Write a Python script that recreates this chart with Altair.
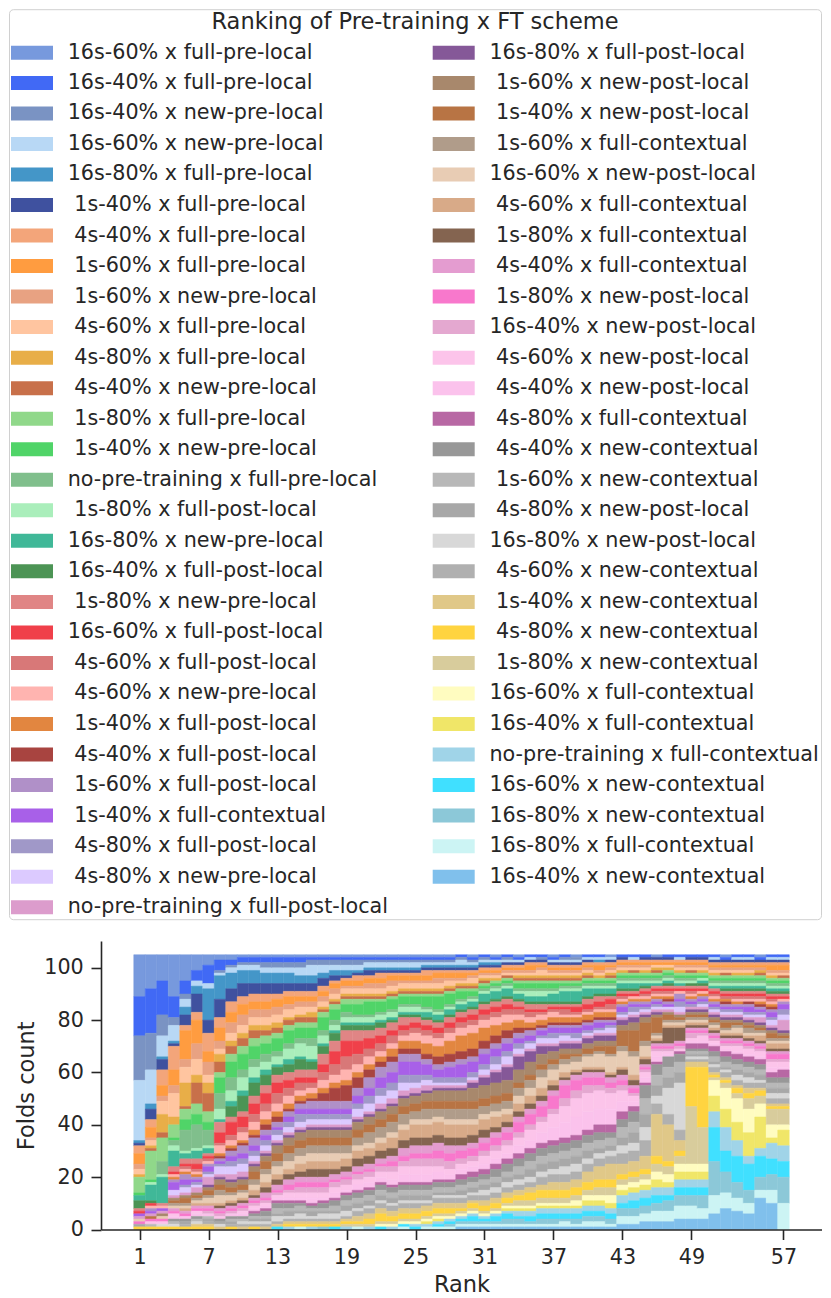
import altair as alt
import pandas as pd

# leading blank kept as in the original labels (zero-width char stops the blank being trimmed)
NB = "\u200b\u00a0"
schemes = [
    "16s-60% x full-pre-local", "16s-40% x full-pre-local", "16s-40% x new-pre-local",
    "16s-60% x new-pre-local", "16s-80% x full-pre-local",
    NB + "1s-40% x full-pre-local", NB + "4s-40% x full-pre-local", NB + "1s-60% x full-pre-local",
    NB + "1s-60% x new-pre-local", NB + "4s-60% x full-pre-local",
    NB + "4s-80% x full-pre-local", NB + "4s-40% x new-pre-local", NB + "1s-80% x full-pre-local",
    NB + "1s-40% x new-pre-local", "no-pre-training x full-pre-local",
    NB + "1s-80% x full-post-local", "16s-80% x new-pre-local", "16s-40% x full-post-local",
    NB + "1s-80% x new-pre-local", "16s-60% x full-post-local",
    NB + "4s-60% x full-post-local", NB + "4s-60% x new-pre-local", NB + "1s-40% x full-post-local",
    NB + "4s-40% x full-post-local", NB + "1s-60% x full-post-local",
    NB + "1s-40% x full-contextual", NB + "4s-80% x full-post-local", NB + "4s-80% x new-pre-local",
    "no-pre-training x full-post-local",
    "16s-80% x full-post-local", NB + "1s-60% x new-post-local", NB + "1s-40% x new-post-local",
    NB + "1s-60% x full-contextual", "16s-60% x new-post-local",
    NB + "4s-60% x full-contextual", NB + "1s-80% x full-contextual", NB + "4s-40% x full-contextual",
    NB + "1s-80% x new-post-local", "16s-40% x new-post-local",
    NB + "4s-60% x new-post-local", NB + "4s-40% x new-post-local", NB + "4s-80% x full-contextual",
    NB + "4s-40% x new-contextual", NB + "1s-60% x new-contextual",
    NB + "4s-80% x new-post-local", "16s-80% x new-post-local", NB + "4s-60% x new-contextual",
    NB + "1s-40% x new-contextual", NB + "4s-80% x new-contextual",
    NB + "1s-80% x new-contextual", "16s-60% x full-contextual", "16s-40% x full-contextual",
    "no-pre-training x full-contextual", "16s-60% x new-contextual",
    "16s-80% x new-contextual", "16s-80% x full-contextual", "16s-40% x new-contextual",
]

colors = [
    "#7799dd", "#4169f5", "#7a93c3", "#b8d8f5", "#4496c8", "#3f519f",
    "#f3a57a", "#ff9c40", "#e8a282", "#ffc5a0", "#e8ae48", "#c8704a",
    "#90d88a", "#50d468", "#80bf8c", "#aaeebb", "#40b898", "#4c9455",
    "#e08585", "#f0404a", "#d87878", "#ffb4b0", "#e28640", "#a84440",
    "#b090c8", "#a860e8", "#a098c8", "#dccaff", "#dc9ccc", "#855898",
    "#a8886c", "#b87444", "#b09c8a", "#e8ccb4", "#d8aa88", "#846450",
    "#e49cd0", "#f878cc", "#e4a8d0", "#fcc4ea", "#fbc2ec", "#b868a4",
    "#989898", "#b8b8b8", "#a8a8a8", "#d8d8d8", "#b0b0b0",
    "#e0c888", "#ffd440", "#d8cc9c", "#fffcc0", "#f0e668",
    "#a0d4e8", "#40e0ff", "#8cc8d8", "#ccf4f4", "#80c0ec",
]

# folds count of every scheme (legend order) at each rank
r01 = [16,15,17,23,1,1, 3,4,2,2,1,0, 6,1,0,0,2,3, 1,1,0,0,0,0, 0,1,0,0,1,0, 0,0,0,1,0,0, 0,1,0,0,0,0, 0,0,1,0,0, 0,1,0,0,0, 0,0,0,0,0]
r02 = [13,17,14,13,2,4, 3,4,1,2,1,1, 11,1,0,1,6,1, 0,1,0,1,0,0, 1,1,0,0,1,0, 0,1,0,0,0,0, 0,1,0,1,0,0, 0,1,0,0,0, 0,1,0,0,0, 0,0,0,0,0]
r03 = [10,13,8,8,1,4, 6,4,2,5,7,2, 9,0,5,1,10,0, 1,0,0,1,0,0, 0,1,0,0,1,0, 1,0,0,1,0,0, 0,1,0,0,1,0, 0,0,0,1,0, 0,1,0,0,0, 0,0,0,0,0]
r04 = [16,8,3,6,1,1, 9,6,3,9,3,0, 5,1,2,2,6,0, 2,1,0,1,1,0, 1,3,0,2,1,0, 1,1,1,1,0,0, 1,1,0,1,1,0, 1,1,0,1,0, 0,1,0,0,0, 0,0,0,0,0]
r05 = [10,5,2,3,3,4, 2,11,3,6,9,1, 4,4,8,1,2,0, 2,1,1,1,1,0, 2,2,1,2,1,0, 1,2,1,1,1,0, 1,1,0,0,1,0, 1,0,1,0,1, 0,1,0,0,0, 0,0,0,0,0]
r06 = [6,4,0,2,3,7, 3,9,6,6,3,8, 4,4,9,1,3,0, 2,2,1,1,1,0, 1,1,1,1,2,0, 1,1,1,1,1,0, 1,1,0,1,1,0, 1,1,0,1,0, 1,1,0,0,0, 0,0,0,0,0]
r07 = [4,7,0,2,12,5, 7,4,5,3,4,7, 4,3,6,1,2,0, 1,1,1,1,0,0, 1,2,1,1,3,1, 1,2,1,2,1,0, 1,1,1,0,1,0, 0,1,1,0,1, 1,1,0,0,0, 0,0,0,0,0]
r08 = [2,4,1,1,9,7, 4,5,3,2,3,4, 2,6,6,4,1,0, 4,4,1,3,1,1, 1,1,1,3,1,1, 2,2,2,3,1,1, 1,1,1,1,0,0, 1,0,1,1,0, 1,0,0,0,0, 0,0,0,0,0]
r09 = [2,2,1,2,6,5, 4,4,4,3,2,3, 3,6,5,4,2,4, 2,5,2,2,1,1, 2,2,2,3,2,1, 2,2,1,2,1,1, 1,1,1,0,1,0, 1,1,1,0,1, 0,1,0,0,0, 0,0,0,0,0]
r10 = [1,2,1,2,5,5, 3,4,4,3,2,3, 3,6,3,5,2,6, 2,4,2,3,1,1, 3,2,2,3,2,1, 2,2,1,2,1,1, 1,1,1,1,1,0, 1,1,0,1,1, 1,0,0,0,0, 0,0,0,0,0]
r11 = [1,2,1,2,5,4, 3,3,3,3,2,3, 3,5,3,4,2,5, 3,4,3,3,2,1, 3,2,2,2,1,1, 2,3,2,2,2,1, 1,1,1,1,1,1, 1,1,1,1,1, 0,1,0,0,0, 0,0,0,0,0]
r12 = [1,2,2,2,4,4, 3,3,3,3,2,2, 3,4,3,3,2,4, 3,4,3,3,2,2, 2,2,2,2,1,1, 2,3,2,3,2,2, 2,1,1,1,1,1, 2,1,1,1,1, 1,0,0,0,0, 0,0,0,0,0]
r13 = [1,2,2,2,4,4, 2,3,3,3,2,2, 2,5,2,3,1,3, 3,4,4,3,2,2, 2,1,2,2,1,1, 3,3,2,3,2,2, 2,1,1,1,1,1, 2,2,1,2,1, 1,0,0,0,0, 0,1,0,0,0]
r14 = [1,2,2,2,4,3, 2,3,2,3,1,2, 2,5,2,4,2,3, 3,3,3,3,2,1, 2,2,2,2,1,1, 3,3,3,3,2,2, 2,2,1,2,1,1, 2,1,2,1,1, 1,1,0,0,0, 1,0,0,0,0]
r15 = [1,2,2,3,3,3, 2,2,2,3,1,2, 2,4,2,5,1,4, 3,2,3,2,2,1, 2,2,3,2,1,1, 3,3,3,3,3,2, 2,2,2,2,1,1, 1,2,1,2,1, 1,1,0,0,0, 0,0,0,1,0]
r16 = [1,1,2,4,3,3, 2,2,2,2,2,2, 2,4,3,5,1,3, 3,2,2,2,2,1, 3,2,2,2,1,1, 3,3,3,3,3,3, 2,2,2,2,2,1, 1,1,2,1,1, 1,1,0,0,0, 1,0,0,0,0]
r17 = [1,1,2,3,2,3, 2,2,2,2,1,1, 2,5,2,3,1,3, 4,3,3,3,2,3, 3,2,2,2,1,1, 3,3,3,3,3,3, 2,2,2,2,1,1, 2,1,1,2,1, 1,1,0,0,0, 0,0,1,0,0]
r18 = [1,1,2,2,2,2, 1,2,2,2,1,1, 2,4,2,2,1,3, 4,5,4,3,2,5, 3,2,2,2,1,1, 3,3,3,3,3,2, 2,1,2,2,2,1, 2,2,1,2,1, 1,1,0,0,0, 0,1,0,0,0]
r19 = [1,1,2,2,2,1, 1,2,1,2,1,1, 2,3,2,2,1,2, 4,6,5,4,2,6, 3,2,2,2,1,1, 3,3,3,2,3,2, 2,1,2,2,1,1, 2,2,2,2,1, 1,1,1,0,0, 1,0,0,0,0]
r20 = [1,1,2,2,1,1, 2,2,1,2,1,1, 2,4,1,2,1,2, 4,5,4,3,2,4, 3,3,2,3,1,1, 3,3,3,2,3,3, 2,1,2,2,2,1, 2,2,2,1,2, 2,1,1,0,0, 0,0,0,1,0]
r21 = [1,1,1,2,1,2, 1,2,2,2,1,1, 1,5,1,2,1,2, 3,4,3,3,2,3, 4,3,3,3,1,1, 3,3,4,2,3,3, 2,1,2,2,2,1, 2,2,2,1,2, 2,2,1,0,0, 1,0,0,0,0]
r22 = [1,1,1,2,1,1, 2,2,2,2,1,1, 1,4,1,2,1,2, 3,3,3,2,2,2, 4,4,3,3,2,1, 3,3,4,2,3,3, 2,1,2,2,2,1, 2,2,2,1,2, 2,3,1,1,0, 0,1,0,0,0]
r23 = [1,1,1,2,1,1, 1,2,2,2,1,1, 1,4,1,2,1,1, 3,2,3,2,3,2, 4,4,3,3,2,1, 3,3,4,2,4,3, 2,2,2,3,2,1, 2,2,2,1,2, 2,2,1,1,0, 1,0,0,0,0]
r24 = [1,1,1,2,1,1, 1,2,1,2,1,1, 1,3,1,2,1,1, 3,2,2,2,3,2, 3,5,3,3,2,1, 3,3,4,2,4,3, 3,2,2,3,3,1, 2,2,2,1,2, 2,2,1,1,0, 0,1,0,1,0]
r25 = [1,1,1,2,1,1, 1,2,1,2,1,1, 1,3,1,2,1,1, 2,2,2,3,3,2, 3,5,3,2,2,1, 3,3,3,2,5,3, 3,2,3,3,3,1, 2,2,2,1,2, 2,2,1,1,0, 1,1,0,0,0]
r26 = [1,1,1,1,1,1, 2,2,1,2,1,1, 1,4,1,1,2,1, 2,2,2,3,4,2, 2,4,2,2,2,1, 3,3,4,2,5,3, 3,2,3,3,3,1, 2,2,2,1,1, 2,2,1,1,1, 1,0,0,1,0]
r27 = [1,1,1,1,1,1, 1,2,2,2,1,1, 1,5,1,1,2,1, 2,2,2,3,4,3, 2,3,2,1,1,1, 4,3,3,2,5,3, 3,3,3,2,3,1, 2,2,1,1,2, 2,2,1,1,1, 1,1,0,1,0]
r28 = [1,1,1,1,1,1, 1,2,1,2,1,1, 1,4,1,1,2,1, 2,2,2,3,5,3, 2,4,2,1,1,1, 4,3,4,2,5,3, 3,3,3,2,2,1, 2,2,1,1,2, 2,2,1,1,0, 1,1,1,1,0]
r29 = [0,1,1,2,1,1, 1,2,1,1,1,1, 1,3,1,1,2,1, 2,2,2,3,6,3, 2,5,2,1,1,1, 4,3,4,2,5,3, 2,3,2,2,2,2, 2,2,2,1,2, 2,1,1,1,0, 1,1,1,1,1]
r30 = [1,1,1,1,1,1, 1,1,1,2,1,1, 1,2,1,1,2,1, 2,2,2,3,6,3, 2,4,2,1,1,2, 5,3,4,2,4,3, 2,3,2,2,2,2, 2,2,2,1,2, 1,2,1,1,0, 1,2,1,1,1]
r31 = [0,1,1,1,1,1, 1,1,1,1,1,1, 1,1,1,1,3,1, 2,2,2,3,5,3, 2,4,2,2,1,3, 5,3,3,2,4,3, 2,3,2,3,2,2, 2,2,2,2,2, 2,2,1,1,0, 1,1,1,1,1]
r32 = [1,1,0,1,1,1, 1,1,1,1,1,0, 1,1,1,1,3,1, 2,2,2,3,4,3, 2,3,3,2,1,4, 5,3,3,2,4,2, 2,3,2,3,2,2, 3,2,2,2,2, 2,2,1,1,0, 1,2,1,1,1]
r33 = [0,1,1,1,0,1, 1,1,1,1,0,1, 1,1,1,1,3,1, 2,2,2,3,3,3, 2,3,2,3,1,5, 5,3,3,2,3,2, 2,3,2,3,2,2, 3,2,2,2,2, 2,2,1,1,1, 1,2,2,1,1]
r34 = [1,1,0,1,0,1, 1,1,1,1,1,1, 1,2,1,1,2,1, 2,1,2,2,3,2, 2,2,2,2,1,5, 5,2,3,3,3,2, 2,4,2,3,3,2, 3,3,2,2,2, 2,2,2,1,1, 2,1,2,1,1]
r35 = [0,1,0,1,0,1, 1,2,1,1,1,1, 1,2,1,2,2,1, 2,1,2,2,2,1, 2,2,1,2,1,4, 5,2,3,3,3,2, 2,4,2,4,3,2, 3,3,3,2,2, 2,3,2,1,1, 2,2,1,1,1]
r36 = [0,1,1,0,0,1, 1,1,1,2,1,1, 1,2,1,2,2,1, 2,1,1,2,2,1, 1,2,1,2,1,3, 4,2,3,4,3,2, 2,4,2,4,4,2, 3,3,3,2,3, 2,3,2,1,1, 2,2,2,1,1]
r37 = [1,1,0,1,0,1, 1,1,1,1,1,1, 1,2,1,1,3,1, 1,1,1,2,2,1, 1,2,2,2,1,2, 3,2,2,4,2,2, 2,5,2,5,5,2, 3,3,3,2,3, 3,3,2,1,1, 2,2,2,1,1]
r38 = [0,1,1,1,0,1, 1,1,1,1,1,1, 1,1,1,1,4,1, 1,1,2,1,2,1, 1,2,1,2,1,2, 2,2,2,3,2,1, 2,5,3,6,6,2, 3,3,3,3,3, 3,3,2,1,1, 2,2,1,2,1]
r39 = [1,0,1,1,0,1, 1,1,1,1,1,1, 1,1,1,1,4,1, 1,2,1,1,2,1, 1,2,2,1,1,2, 2,1,2,3,1,1, 2,4,3,7,7,2, 3,3,3,3,3, 3,3,2,2,1, 2,2,2,1,1]
r40 = [0,1,0,1,0,1, 1,1,1,1,1,1, 1,1,1,1,3,1, 2,2,1,1,2,1, 1,2,1,1,1,2, 2,2,1,4,1,1, 2,3,3,7,7,2, 3,3,3,2,3, 4,3,2,2,2, 2,2,2,2,1]
r41 = [0,1,0,1,1,0, 1,2,1,1,1,0, 1,1,1,1,2,1, 2,2,1,1,2,1, 1,2,1,1,1,2, 2,2,1,5,1,1, 2,3,2,7,6,3, 3,3,2,2,3, 5,3,3,2,2, 2,2,2,2,1]
r42 = [1,0,0,1,0,1, 1,1,1,1,1,1, 1,1,1,1,2,1, 1,2,2,1,2,1, 1,1,1,2,1,2, 2,3,1,6,1,1, 2,2,2,6,6,3, 2,3,2,2,3, 6,3,3,3,2, 2,2,2,1,1]
r43 = [0,1,0,0,0,1, 1,1,1,1,1,0, 1,1,1,1,2,1, 1,1,1,1,1,0, 1,2,1,1,1,2, 2,6,2,6,1,2, 2,2,2,4,4,3, 3,4,3,3,4, 4,2,2,2,2, 3,2,3,3,2]
r44 = [0,1,0,1,0,0, 1,1,1,1,0,1, 1,1,1,1,2,1, 1,1,0,1,1,0, 1,1,2,1,1,2, 3,8,2,7,2,2, 1,2,1,2,2,2, 4,4,4,3,4, 4,2,2,2,2, 3,3,3,3,2]
r45 = [0,1,0,0,0,1, 1,1,1,1,1,0, 1,1,1,1,1,1, 1,1,1,1,1,0, 1,1,1,1,1,1, 2,7,2,4,1,2, 1,1,1,2,2,1, 5,6,5,5,6, 5,2,2,2,2, 3,3,3,3,3]
r46 = [1,0,0,0,0,1, 1,1,0,1,1,1, 1,1,1,1,1,0, 1,1,1,1,1,0, 1,1,1,1,1,1, 1,6,1,1,1,1, 1,1,1,2,2,1, 4,4,4,3,4, 16,3,3,3,3, 3,3,3,4,3]
r47 = [0,1,0,0,0,1, 1,1,0,1,1,0, 1,1,1,1,1,1, 1,1,1,1,1,1, 1,1,0,1,1,0, 1,2,1,1,1,6, 1,1,1,1,1,0, 4,4,4,10,4, 14,2,3,3,2, 3,2,4,4,3]
r48 = [0,1,0,1,0,0, 1,1,1,1,1,0, 1,1,1,1,1,0, 1,1,0,1,0,0, 2,1,2,2,1,0, 1,1,1,1,1,5, 1,1,1,1,0,1, 3,4,4,18,4, 4,2,3,3,3, 3,3,4,5,4]
r49 = [0,1,0,0,0,1, 1,1,1,1,0,1, 1,1,1,1,0,1, 1,1,1,1,1,0, 1,1,1,0,1,1, 1,1,1,1,1,1, 1,1,2,1,1,2, 1,1,1,1,1, 2,15,22,3,3, 3,3,4,5,4]
r50 = [0,1,0,0,0,1, 1,1,1,1,1,0, 1,1,0,1,1,1, 1,1,0,1,1,0, 1,1,1,1,1,1, 1,1,1,1,1,1, 1,1,1,2,1,2, 1,1,1,1,1, 2,23,14,3,3, 3,3,5,4,4]
r51 = [0,1,0,1,0,1, 1,1,1,1,1,0, 1,1,1,1,1,0, 1,1,1,1,1,0, 1,1,1,1,1,1, 1,1,1,1,1,1, 1,1,1,1,1,2, 2,2,1,1,2, 1,1,1,6,6, 6,13,13,7,6]
r52 = [1,1,0,0,0,1, 1,1,1,1,0,1, 1,1,1,1,1,1, 1,1,1,0,1,1, 1,1,1,1,1,1, 1,2,1,1,1,1, 1,1,1,1,1,2, 2,2,1,1,2, 1,1,2,8,7, 9,8,8,6,8]
r53 = [0,1,0,1,0,1, 1,1,1,1,1,0, 1,1,1,1,1,1, 1,1,1,1,1,0, 1,1,1,1,1,1, 1,1,1,2,1,1, 1,1,1,2,1,2, 2,2,2,2,2, 1,2,2,9,7, 6,10,6,5,7]
r54 = [0,1,0,1,0,1, 1,1,1,1,1,0, 1,1,1,1,1,1, 1,1,1,1,0,1, 1,2,1,1,1,1, 1,1,2,1,1,1, 1,1,1,2,1,2, 2,2,2,2,2, 2,2,4,9,9, 3,10,5,4,6]
r55 = [1,1,0,0,0,1, 1,1,1,0,1,1, 1,1,1,1,1,1, 1,1,1,1,1,1, 1,1,1,1,2,1, 1,1,1,1,2,1, 1,1,1,2,1,2, 2,2,2,1,2, 1,2,3,5,12, 3,8,5,3,12]
r56 = [0,1,0,1,0,1, 1,2,1,1,1,0, 1,1,1,1,1,1, 1,1,1,1,1,1, 1,2,1,2,1,1, 1,2,1,1,2,1, 1,2,1,2,2,2, 2,2,2,2,2, 1,1,6,5,2, 6,6,6,5,10]
r57 = [0,1,0,1,0,1, 1,2,1,1,0,1, 1,1,1,1,1,1, 1,1,0,1,0,0, 1,2,2,2,4,1, 1,1,1,1,2,1, 1,2,1,2,1,3, 2,2,2,2,2, 1,1,6,2,6, 6,6,10,10,0]

rank_rows = [r01, r02, r03, r04, r05, r06, r07, r08, r09, r10, r11, r12, r13, r14, r15,
             r16, r17, r18, r19, r20, r21, r22, r23, r24, r25, r26, r27, r28, r29, r30,
             r31, r32, r33, r34, r35, r36, r37, r38, r39, r40, r41, r42, r43, r44, r45,
             r46, r47, r48, r49, r50, r51, r52, r53, r54, r55, r56, r57]

x_ticks = [1, 7, 13, 19, 25, 31, 37, 43, 49, 57]
y_ticks = [0, 20, 40, 60, 80, 100]

records = []
for rank, row in enumerate(rank_rows, start=1):
    for idx, (name, c) in enumerate(zip(schemes, row)):
        if c > 0:
            records.append({"rank": rank, "x0": rank - 0.5, "x1": rank + 0.5,
                            "scheme": name, "idx": idx, "count": c})
df = pd.DataFrame(records)

FONT = "DejaVu Sans"
FS = 20.7
TFS = 22.5
INK = "#262626"

color_scale = alt.Scale(domain=schemes, range=colors)

chart = alt.Chart(df).transform_stack(
    stack="count", groupby=["rank"], as_=["y0", "y1"],
    sort=[alt.SortField("idx", order="descending")],
).mark_rect(strokeWidth=0.5).encode(
    x=alt.X("x0:Q", scale=alt.Scale(domain=[-2.35, 60.35], nice=False, zero=False),
            axis=alt.Axis(values=x_ticks, title="Rank", titlePadding=6.2, labelFlush=False, zindex=1)),
    x2="x1:Q",
    y=alt.Y("y0:Q", scale=alt.Scale(domain=[0, 110.25], nice=False),
            axis=alt.Axis(values=y_ticks, title="Folds count", titlePadding=5, zindex=1)),
    y2="y1:Q",
    color=alt.Color("scheme:N", scale=color_scale, legend=alt.Legend(
        title="Ranking of Pre-training x FT scheme",
        orient="none", legendX=-92, legendY=-931.8, direction="vertical", columns=2,
        symbolType="M-3,-1H3V1H-3Z", symbolSize=196, symbolStrokeWidth=0, symbolOpacity=1,
        symbolOffset=10.65, labelOffset=25.35, rowPadding=8.53, columnPadding=44.7,
        padding=2, titlePadding=8.3, titleAnchor="middle", titleFontWeight="normal",
        titleFont=FONT, titleFontSize=TFS, titleColor=INK, titleLimit=1000,
        labelFont=FONT, labelFontSize=FS, labelColor=INK, labelLimit=1000,
        strokeColor="#d0d0d0", fillColor="white", cornerRadius=4, symbolLimit=100,
    )),
    stroke=alt.Stroke("scheme:N", scale=color_scale, legend=None),
).properties(
    width=721, height=288.5, padding=0, background="white",
).configure_view(stroke=None).configure_axis(
    labelFont=FONT, titleFont=FONT, labelFontSize=FS, titleFontSize=TFS,
    titleFontWeight="normal", labelColor=INK, titleColor=INK,
    domainColor=INK, tickColor=INK, domainWidth=1.6, tickWidth=1.6,
    tickSize=10, labelPadding=7.7, grid=False,
)

chart.save("out.html", embed_options={"renderer": "svg", "actions": False})
